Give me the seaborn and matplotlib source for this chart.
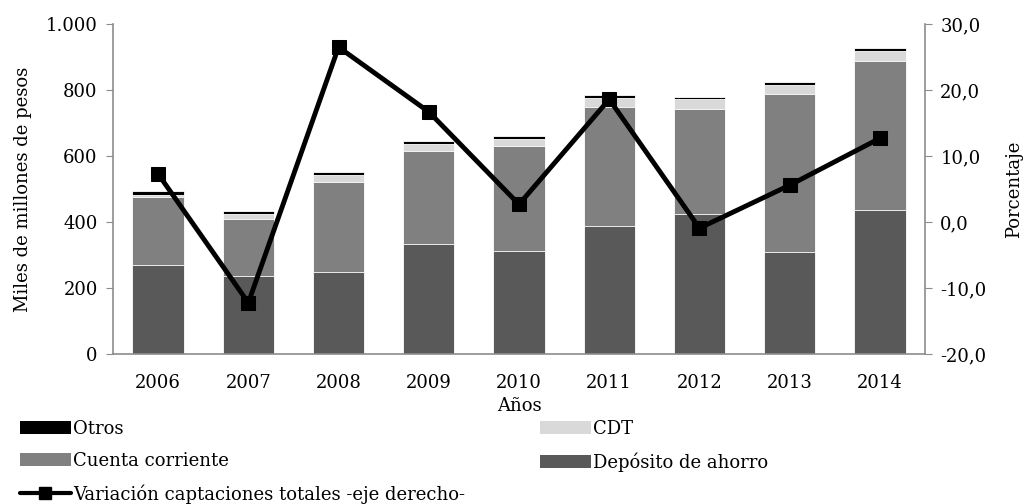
import numpy as np
import pandas as pd
import matplotlib
matplotlib.use("Agg")
import matplotlib.pyplot as plt
from matplotlib.lines import Line2D
from matplotlib.patches import Patch
import seaborn as sns

years = ["2006", "2007", "2008", "2009", "2010", "2011", "2012", "2013", "2014"]
deposito = [269, 236, 248, 334, 312, 388, 426, 309, 436]
cuenta = [206, 174, 275, 281, 318, 361, 318, 479, 453]
cdt = [8, 16, 21, 23, 21, 28, 28, 27, 28]
otros = [12, 9, 9, 8, 10, 9, 8, 10, 9]
variacion = [7.3, -12.2, 26.5, 16.7, 2.7, 18.6, -0.9, 5.6, 12.7]

sns.set_style("white")
plt.rcParams["font.family"] = ["DejaVu Serif"]
plt.rcParams["font.size"] = 13
plt.rcParams["text.color"] = "black"
plt.rcParams["axes.labelcolor"] = "black"
plt.rcParams["xtick.color"] = "black"
plt.rcParams["ytick.color"] = "black"

c_dep = "#595959"
c_cc = "#808080"
c_cdt = "#d9d9d9"
c_otr = "#000000"
spine_c = "#8c8c8c"
FS = 13

df = pd.DataFrame({"year": years, "dep": deposito, "cc": cuenta, "cdt": cdt, "otr": otros})
df["s1"] = df["dep"]
df["s2"] = df["s1"] + df["cc"]
df["s3"] = df["s2"] + df["cdt"]
df["s4"] = df["s3"] + df["otr"]

fig = plt.figure(figsize=(10.28, 5.04), dpi=100)
ax = fig.add_axes([113/1028, 1-354.3/504, (925-113)/1028, (354.3-24)/504])

w = 0.57
for col, color in [("s4", c_otr), ("s3", c_cdt), ("s2", c_cc), ("s1", c_dep)]:
    sns.barplot(data=df, x="year", y=col, color=color, width=w, ax=ax,
                edgecolor="white", linewidth=0.6, saturation=1, errorbar=None)

ax.set_ylim(0, 1000)
ax.set_xlim(-0.5, 8.5)
ax.set_yticks(np.arange(0, 1001, 200))
ax.set_yticklabels([f"{v:,}".replace(",", ".") for v in range(0, 1001, 200)])
ax.set_xlabel("Años", fontsize=FS, labelpad=4)
ax.set_ylabel("Miles de millones de pesos", fontsize=FS, labelpad=10)
ax.tick_params(axis="x", length=0, pad=14, labelsize=FS, colors="black")
ax.tick_params(axis="y", length=5, color=spine_c, labelcolor="black", direction="out",
               labelsize=FS, left=True, pad=6)

ax2 = ax.twinx()
sns.lineplot(x=np.arange(len(years)), y=variacion, ax=ax2, color="black",
             linewidth=3.5, marker="s", markersize=10, markeredgecolor="black")
ax2.set_ylim(-20, 30)
ax2.set_yticks(np.arange(-20, 31, 10))
ax2.set_yticklabels([f"{v:.1f}".replace(".", ",") for v in np.arange(-20, 31, 10)])
ax2.set_ylabel("Porcentaje", fontsize=FS, labelpad=13)
ax2.tick_params(axis="y", length=5, color=spine_c, labelcolor="black", direction="out",
                labelsize=FS, right=True, pad=6)

for a in (ax, ax2):
    a.spines["top"].set_visible(False)
    for s in ("left", "right", "bottom"):
        a.spines[s].set_color(spine_c)
        a.spines[s].set_linewidth(1.2)
ax.spines["right"].set_visible(False)
ax2.spines["left"].set_visible(False)
ax2.spines["bottom"].set_visible(False)

h_otr = Patch(facecolor=c_otr, edgecolor="none", label="Otros")
h_cc = Patch(facecolor=c_cc, edgecolor="none", label="Cuenta corriente")
h_var = Line2D([0], [0], color="black", lw=3, marker="s", markersize=8,
               label="Variación captaciones totales -eje derecho-")
h_cdt = Patch(facecolor=c_cdt, edgecolor="none", label="CDT")
h_dep = Patch(facecolor=c_dep, edgecolor="none", label="Depósito de ahorro")

common = dict(loc="upper left", frameon=False, fontsize=FS, handlelength=2.8,
              handleheight=0.7, handletextpad=0.12, labelspacing=0.78,
              borderpad=0, borderaxespad=0, labelcolor="black")
leg1 = fig.legend(handles=[h_otr, h_cc, h_var], bbox_to_anchor=(20/1028, 1-420/504), **common)
leg2 = fig.legend(handles=[h_cdt, h_dep], bbox_to_anchor=(540/1028, 1-420/504), **common)

fig.savefig("out.png", dpi=100)
